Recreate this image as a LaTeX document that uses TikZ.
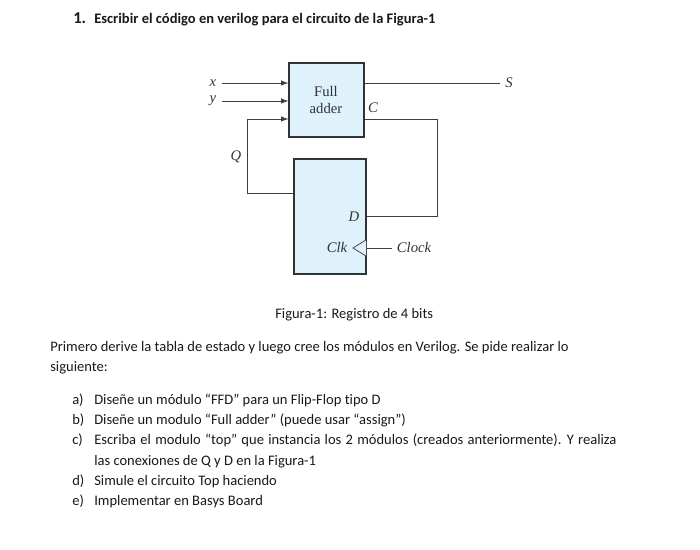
\documentclass[tikz,border=0pt]{standalone}
\usepackage{fontspec}
\setmainfont[Ligatures=NoCommon]{Carlito}
\newfontfamily\figfont{Liberation Serif}
\usetikzlibrary{arrows.meta,positioning}
\definecolor{boxblue}{HTML}{DFF1FB}
\definecolor{wire}{HTML}{3A3F45}
\tikzset{
  txt/.style={anchor=base west,inner sep=0pt,font=\fontsize{10.9}{13}\selectfont,text=black!90},
  block/.style={draw=black!80,line width=.9pt,fill=boxblue,inner sep=0pt},
  lbl/.style={font=\figfont\itshape\fontsize{11}{13}\selectfont,text=black!80,inner sep=2pt},
  wirepath/.style={draw=wire,line width=.55pt},
  inarrow/.style={wirepath,-{Latex[length=5.5pt,width=4pt]}}
}
\begin{document}
\begin{tikzpicture}[x=.75pt,y=-.75pt]
  \useasboundingbox[fill=white](0,0) rectangle (700,550);
  % heading
  \node[txt,font=\bfseries\fontsize{12.5}{14}\selectfont] (num) at (73,23) {1.};
  \node[txt,font=\bfseries\fontsize{10.9}{13}\selectfont] (title) at (94,23) {Escribir el código en verilog para el circuito de la Figura-1};
  % blocks
  \node[block,minimum width=56.25pt,minimum height=55.5pt] (adder) at (326.5,100) {};
  \node[block,minimum width=54pt,minimum height=86.25pt] (ffd) at (330,216.5) {};
  \node[font=\figfont\fontsize{11}{13}\selectfont,text=black!80,align=center,inner sep=0pt] (addertxt) at (326,100) {Full\\adder};
  % labels
  \node[lbl] (x) at (213,83) {x};
  \node[lbl] (y) at (213,101) {y};
  \node[lbl] (q) at (236,157) {Q};
  \node[lbl,inner sep=0pt] (s) at (509,83) {S};
  \node[lbl] (c) at (373,108) {C};
  \node[lbl] (d) at (354,217) {D};
  \node[lbl] (clk) at (337,247) {Clk};
  \node[lbl] (clock) at (414,247) {Clock};
  % ports
  \coordinate (xin) at (222,83);
  \coordinate (yin) at (222,101);
  \coordinate (qin) at (247,119);
  \coordinate (cout) at (437,119);
  \coordinate (qout) at (247,193);
  \coordinate (dout) at (437,216);
  \coordinate (clkend) at (392,248);
  \coordinate (clktip) at (353,248);
  \coordinate (clktop) at (366,240);
  \coordinate (clkbot) at (366,256);
  \coordinate (send) at (500,83);
  % wires
  \draw[inarrow](xin)--(xin-|adder.west);
  \draw[inarrow](yin)--(yin-|adder.west);
  \draw[inarrow](qout-|ffd.west)--(qout)--(qin)--(qin-|adder.west);
  \draw[wirepath](send-|adder.east)--(send);
  \draw[wirepath](cout-|adder.east)--(cout)--(dout)--(dout-|ffd.east);
  \draw[wirepath](clkend)--(clkend-|ffd.east);
  \draw[wirepath,fill=boxblue](clktop)--(clktip)--(clkbot);
  % caption and text
  \node[txt] (cap) at (275,318) {Figura-1: Registro de 4 bits};
  \node[txt] (intro1) at (50,351) {Primero derive la tabla de estado y luego cree los módulos en Verilog. Se pide realizar lo};
  \node[txt] (intro2) at (50,371) {siguiente:};
  \foreach \nm/\tag/\ypos/\body in {
    a/a)/404/{Diseñe un módulo “FFD” para un Flip-Flop tipo D},
    b/b)/424/{Diseñe un modulo “Full adder” (puede usar “assign”)},
    c/c)/444/{\spaceskip=3.2pt Escriba el modulo “top” que instancia los 2 módulos (creados anteriormente). Y realiza},
    d/d)/485/{Simule el circuito Top haciendo},
    e/e)/505/{Implementar en Basys Board}}{
    \node[txt] (tag\nm) at (72,\ypos) {\tag};
    \node[txt] (item\nm) at (94,\ypos) {\body};
  }
  \node[txt] (itemc2) at (94,465) {las conexiones de Q y D en la Figura-1};
\end{tikzpicture}
\end{document}
